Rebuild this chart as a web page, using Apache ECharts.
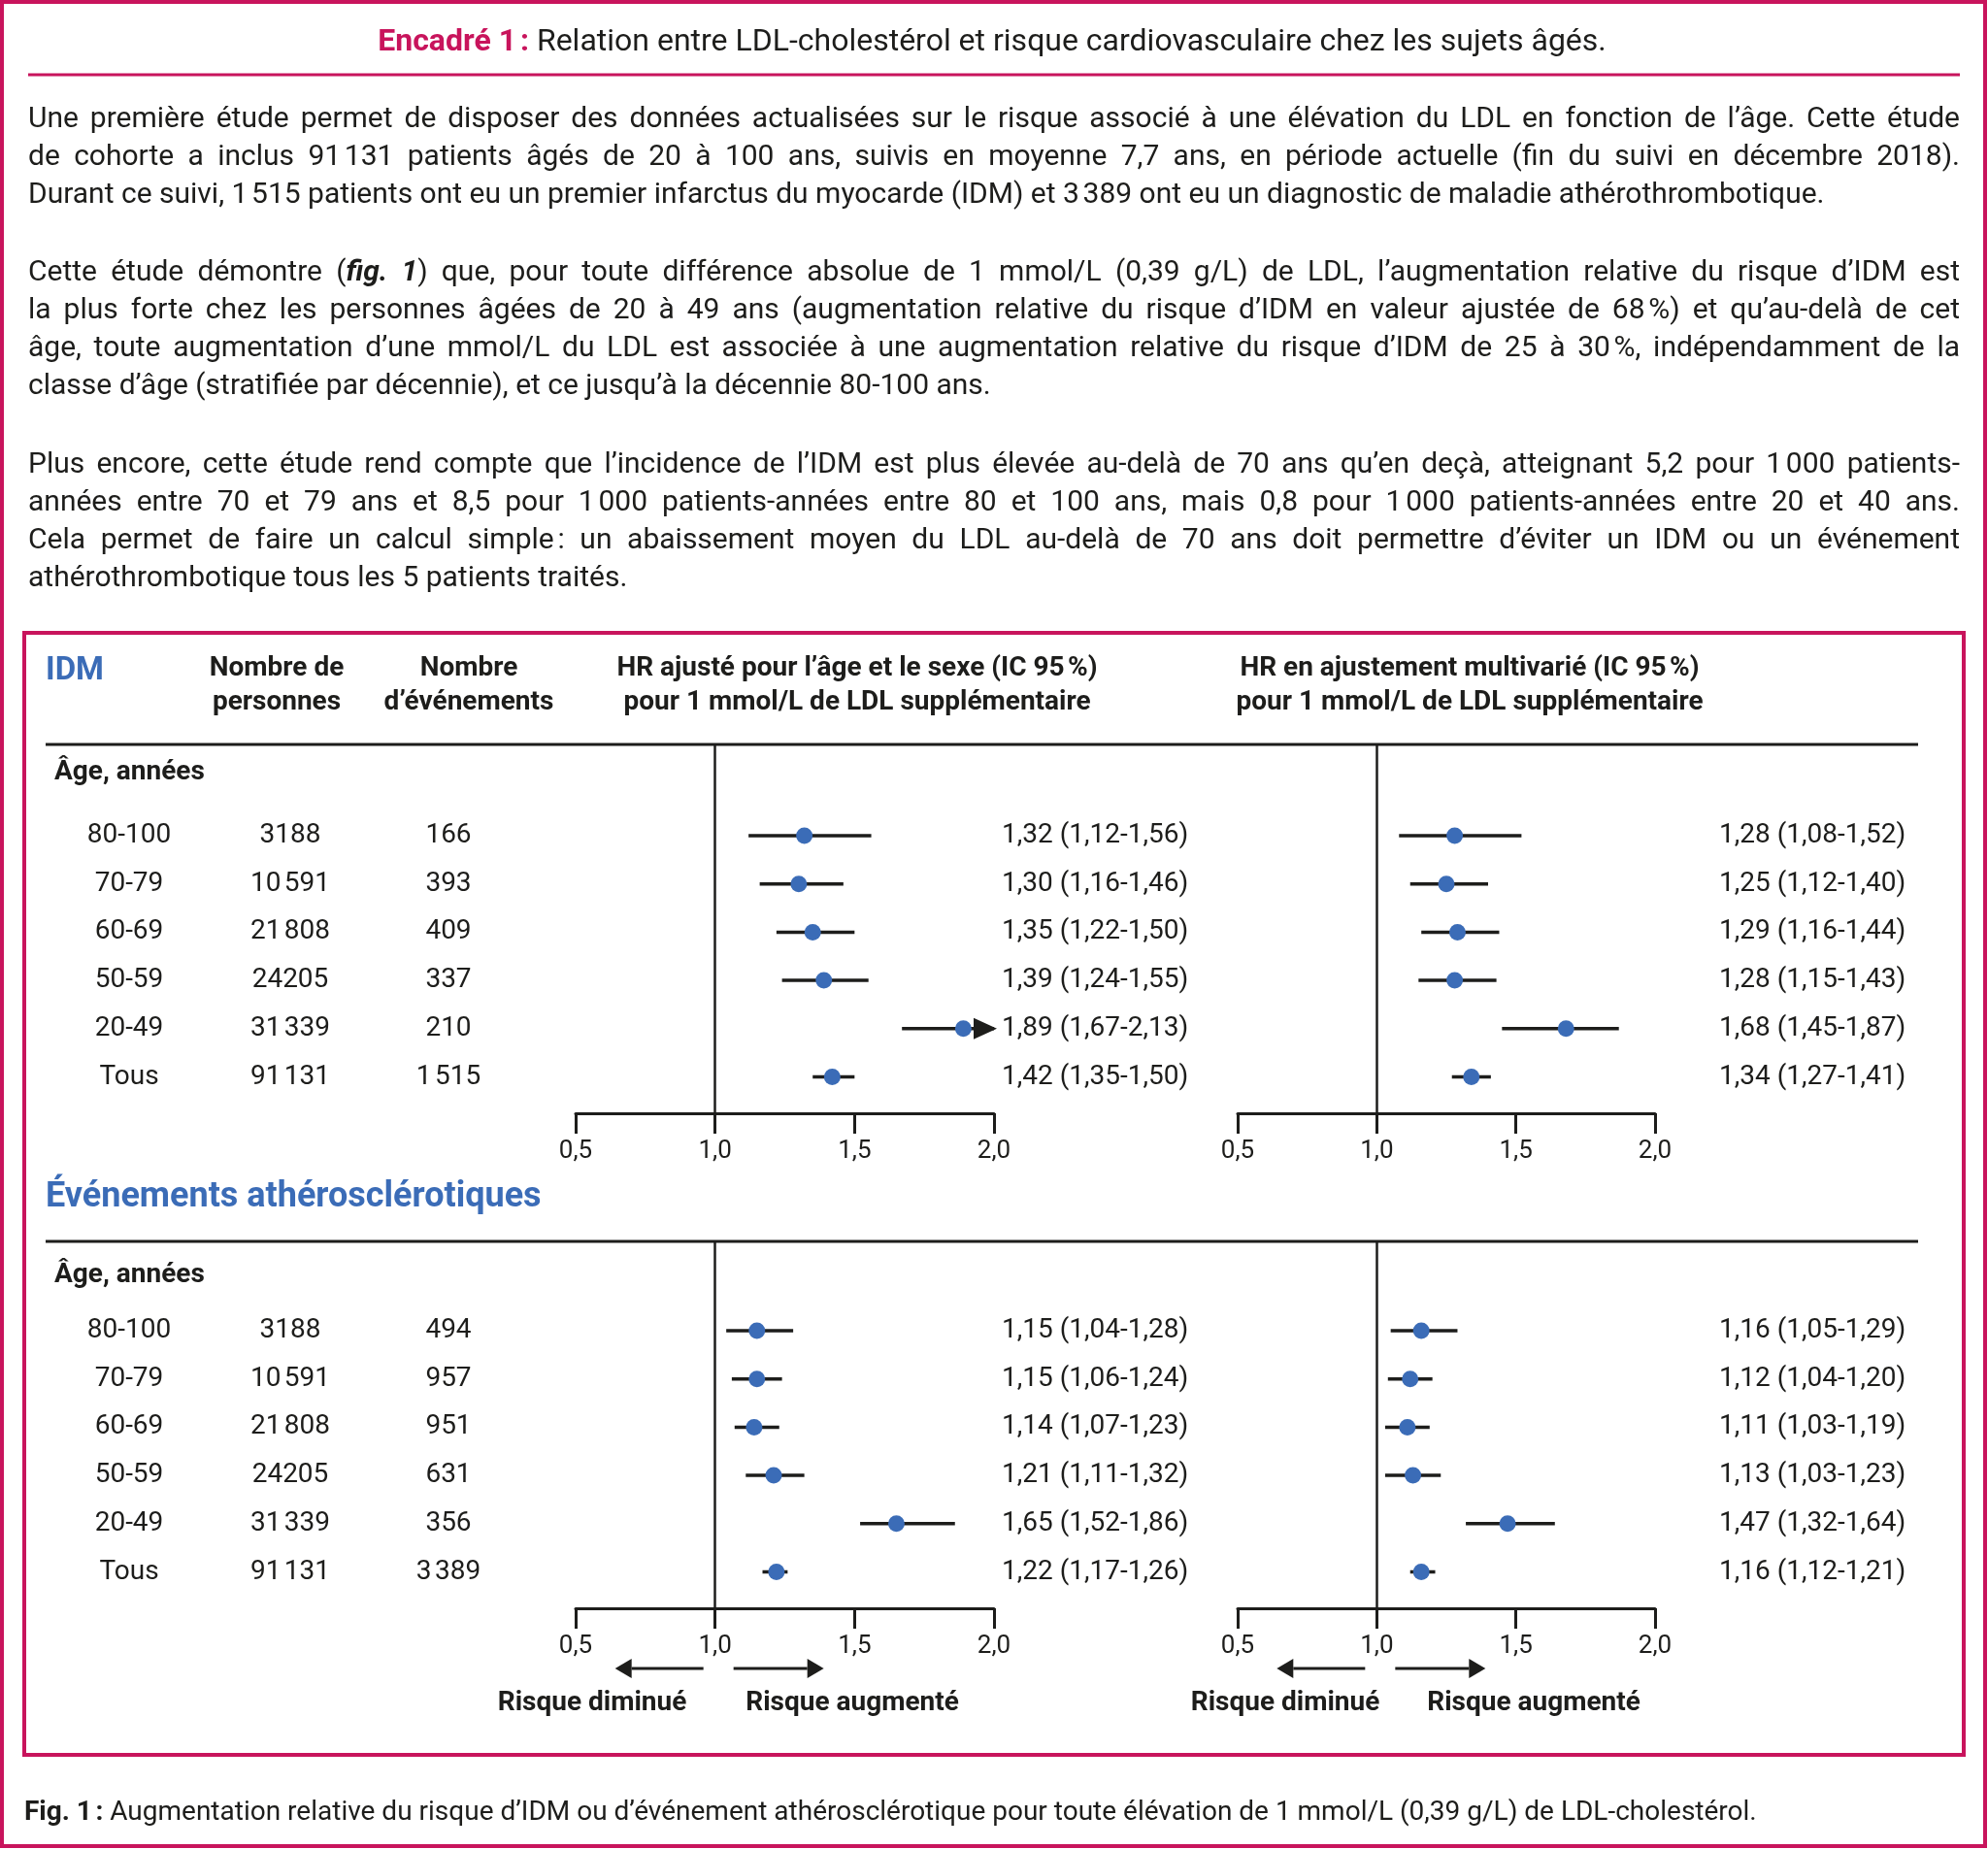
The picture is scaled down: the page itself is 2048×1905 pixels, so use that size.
<!DOCTYPE html>
<html><head><meta charset="utf-8">
<script src="https://cdn.jsdelivr.net/npm/echarts@6/dist/echarts.min.js"></script>
<style>html,body{margin:0;padding:0;background:#fff}#c{width:2048px;height:1905px}</style>
</head><body><div id="c"></div>
<script>
// ---------------- DATA ----------------
const ageGroups     = ['80-100', '70-79', '60-69', '50-59', '20-49', 'Tous'];
const personCounts  = ['3188', '10\u202f591', '21\u202f808', '24205', '31\u202f339', '91\u202f131'];
const idmEvents     = ['166', '393', '409', '337', '210', '1\u202f515'];
const atheroEvents  = ['494', '957', '951', '631', '356', '3\u202f389'];

const idmAgeSexHR   = [1.32, 1.30, 1.35, 1.39, 1.89, 1.42];
const idmAgeSexLow  = [1.12, 1.16, 1.22, 1.24, 1.67, 1.35];
const idmAgeSexHigh = [1.56, 1.46, 1.50, 1.55, 2.13, 1.50];

const idmMultiHR    = [1.28, 1.25, 1.29, 1.28, 1.68, 1.34];
const idmMultiLow   = [1.08, 1.12, 1.16, 1.15, 1.45, 1.27];
const idmMultiHigh  = [1.52, 1.40, 1.44, 1.43, 1.87, 1.41];

const athAgeSexHR   = [1.15, 1.15, 1.14, 1.21, 1.65, 1.22];
const athAgeSexLow  = [1.04, 1.06, 1.07, 1.11, 1.52, 1.17];
const athAgeSexHigh = [1.28, 1.24, 1.23, 1.32, 1.86, 1.26];

const athMultiHR    = [1.16, 1.12, 1.11, 1.13, 1.47, 1.16];
const athMultiLow   = [1.05, 1.04, 1.03, 1.03, 1.32, 1.12];
const athMultiHigh  = [1.29, 1.20, 1.19, 1.23, 1.64, 1.21];

const hrAxisMin = 0.5, hrAxisMax = 2.0, hrAxisStep = 0.5;

// ---------------- TEXT ----------------
const titleBold = 'Encadré 1\u202f:';
const titleRest = ' Relation entre LDL-cholestérol et risque cardiovasculaire chez les sujets âgés.';
const paragraph1 = [
  'Une première étude permet de disposer des données actualisées sur le risque associé à une élévation du LDL en fonction de l’âge. Cette étude',
  'de cohorte a inclus 91\u202f131 patients âgés de 20 à 100 ans, suivis en moyenne 7,7 ans, en période actuelle (fin du suivi en décembre 2018).',
  'Durant ce suivi, 1\u202f515 patients ont eu un premier infarctus du myocarde (IDM) et 3\u202f389 ont eu un diagnostic de maladie athérothrombotique.'
];
const paragraph2 = [
  'Cette étude démontre ([[fig. 1]]) que, pour toute différence absolue de 1 mmol/L (0,39 g/L) de LDL, l’augmentation relative du risque d’IDM est',
  'la plus forte chez les personnes âgées de 20 à 49 ans (augmentation relative du risque d’IDM en valeur ajustée de 68\u202f%) et qu’au-delà de cet',
  'âge, toute augmentation d’une mmol/L du LDL est associée à une augmentation relative du risque d’IDM de 25 à 30\u202f%, indépendamment de la',
  'classe d’âge (stratifiée par décennie), et ce jusqu’à la décennie 80-100 ans.'
];
const paragraph3 = [
  'Plus encore, cette étude rend compte que l’incidence de l’IDM est plus élevée au-delà de 70 ans qu’en deçà, atteignant 5,2 pour 1\u202f000 patients-',
  'années entre 70 et 79 ans et 8,5 pour 1\u202f000 patients-années entre 80 et 100 ans, mais 0,8 pour 1\u202f000 patients-années entre 20 et 40 ans.',
  'Cela permet de faire un calcul simple\u202f: un abaissement moyen du LDL au-delà de 70 ans doit permettre d’éviter un IDM ou un événement',
  'athérothrombotique tous les 5 patients traités.'
];
const captionBold = 'Fig. 1\u202f:';
const captionRest = ' Augmentation relative du risque d’IDM ou d’événement athérosclérotique pour toute élévation de 1 mmol/L (0,39 g/L) de LDL-cholestérol.';

// ---------------- STYLE / LAYOUT ----------------
const MAGENTA = '#c8145c', BLUE = '#3b6cb7', INK = '#1d1d1b';
const FAM = 'Roboto, "Noto Sans", sans-serif';
const ROW_STEP = 49.7;

const ctx = document.createElement('canvas').getContext('2d');
function fontStr(size, bold, italic) { return (italic ? 'italic ' : '') + (bold ? 'bold ' : '') + size + 'px ' + FAM; }
function mw(t, size, bold, italic) { ctx.font = fontStr(size, bold, italic); return ctx.measureText(t).width; }

const els = [];
function txt(t, x, y, size, opts) {
  opts = opts || {};
  els.push({
    type: 'text', x: x, y: y, z: 10,
    style: {
      text: t, font: fontStr(size, opts.bold, opts.italic), fill: opts.color || INK,
      textAlign: opts.align || 'left', textVerticalAlign: 'middle', verticalAlign: 'middle'
    }
  });
}
function hline(x1, x2, y, w, c) {
  els.push({ type: 'line', z: 5, shape: { x1: x1, y1: y, x2: x2, y2: y }, style: { stroke: c || INK, lineWidth: w || 3 } });
}
function arrow(xStart, xTip, y) {
  const dir = xTip > xStart ? 1 : -1;
  const base = xTip - dir * 17;
  els.push({ type: 'line', z: 5, shape: { x1: xStart, y1: y, x2: base, y2: y }, style: { stroke: INK, lineWidth: 3 } });
  els.push({ type: 'polygon', z: 5, shape: { points: [[xTip, y], [base, y - 10], [base, y + 10]] }, style: { fill: INK } });
}

// parse a line into words made of styled pieces
function parseWords(line) {
  const tokens = line.split(/(\[\[.*?\]\])/).filter(s => s.length);
  const words = [[]];
  tokens.forEach(tok => {
    const bi = tok.startsWith('[[');
    const s = bi ? tok.slice(2, -2) : tok;
    const parts = s.split(' ');
    parts.forEach((p, k) => {
      if (k > 0) words.push([]);
      if (p.length) words[words.length - 1].push({ t: p, b: bi, i: bi });
    });
  });
  return words.filter(w => w.length);
}

const TX0 = 29, TX1 = 2019;
function wordWidth(w, size) { return w.reduce((s, p) => s + mw(p.t, size, p.b, p.i), 0); }
let bodySize = 30;
[paragraph1, paragraph2, paragraph3].forEach(par => par.forEach((line, li) => {
  const ws = parseWords(line);
  const need = ws.reduce((s, w) => s + wordWidth(w, bodySize), 0) + (ws.length - 1) * mw(' ', bodySize) * 0.75;
  if (need > TX1 - TX0) bodySize = Math.min(bodySize, bodySize * (TX1 - TX0) / need);
}));

function paragraph(lines, y0, step) {
  lines.forEach((line, li) => {
    const ws = parseWords(line);
    const widths = ws.map(w => wordWidth(w, bodySize));
    const total = widths.reduce((a, b) => a + b, 0);
    const last = li === lines.length - 1;
    const just = (TX1 - TX0 - total) / (ws.length - 1);
    const gap = last ? Math.min(mw(' ', bodySize), just) : just;
    let x = TX0;
    const y = y0 + li * step;
    ws.forEach((w, k) => {
      let px = x;
      w.forEach(p => {
        txt(p.t, px, y, bodySize, { bold: p.b, italic: p.i });
        px += mw(p.t, bodySize, p.b, p.i);
      });
      x += widths[k] + gap;
    });
  });
}

// frames
els.push({ type: 'rect', z: 1, shape: { x: 2, y: 2, width: 2043, height: 1900 }, style: { fill: 'none', stroke: MAGENTA, lineWidth: 4 } });
els.push({ type: 'rect', z: 1, shape: { x: 25, y: 652, width: 1998, height: 1156 }, style: { fill: 'none', stroke: MAGENTA, lineWidth: 4 } });

// title
{
  const size = 32;
  const w1 = mw(titleBold, size, true), w2 = mw(titleRest, size, false);
  const x0 = 1022 - (w1 + w2) / 2;
  txt(titleBold, x0, 44, size, { bold: true, color: MAGENTA });
  txt(titleRest, x0 + w1, 44, size);
}
hline(29, 2019, 77, 3, MAGENTA);

paragraph(paragraph1, 123, 39.3);
paragraph(paragraph2, 281, 39.3);
paragraph(paragraph3, 479, 39.3);

// table headers
const HS = 28;
txt('IDM', 47, 692, 33, { bold: true, color: BLUE });
txt('Nombre de', 285, 689, HS, { bold: true, align: 'center' });
txt('personnes', 285, 724, HS, { bold: true, align: 'center' });
txt('Nombre', 483, 689, HS, { bold: true, align: 'center' });
txt('d’événements', 483, 724, HS, { bold: true, align: 'center' });
txt('HR ajusté pour l’âge et le sexe (IC 95\u202f%)', 883, 689, HS, { bold: true, align: 'center' });
txt('pour 1 mmol/L de LDL supplémentaire', 883, 724, HS, { bold: true, align: 'center' });
txt('HR en ajustement multivarié (IC 95\u202f%)', 1514, 689, HS, { bold: true, align: 'center' });
txt('pour 1 mmol/L de LDL supplémentaire', 1514, 724, HS, { bold: true, align: 'center' });
hline(47, 1976, 767, 3);
txt('Âge, années', 56, 796, HS, { bold: true });

txt('Événements athérosclérotiques', 47, 1234, 36, { bold: true, color: BLUE });
hline(47, 1976, 1279, 3);
txt('Âge, années', 56, 1314, HS, { bold: true });

// caption
{
  const size = 28;
  const w1 = mw(captionBold, size, true);
  txt(captionBold, 25, 1868, size, { bold: true });
  txt(captionRest, 25 + w1, 1868, size);
}

// ---------------- FOREST PANELS ----------------
const panels = [
  { hr: idmAgeSexHR, lo: idmAgeSexLow, hi: idmAgeSexHigh, events: idmEvents, table: true,
    grid: { left: 593, top: 767, width: 431, height: 380 }, firstRow: 861, labelX: 1032 },
  { hr: idmMultiHR, lo: idmMultiLow, hi: idmMultiHigh, table: false,
    grid: { left: 1275, top: 767, width: 430, height: 380 }, firstRow: 861, labelX: 1771 },
  { hr: athAgeSexHR, lo: athAgeSexLow, hi: athAgeSexHigh, events: atheroEvents, table: true,
    grid: { left: 593, top: 1279, width: 431, height: 378 }, firstRow: 1371, labelX: 1032 },
  { hr: athMultiHR, lo: athMultiLow, hi: athMultiHigh, table: false,
    grid: { left: 1275, top: 1279, width: 430, height: 378 }, firstRow: 1371, labelX: 1771 }
];

const fmt2 = v => v.toFixed(2).replace('.', ',');
const fmt1 = v => v.toFixed(1).replace('.', ',');

const grid = [], xAxis = [], yAxis = [], series = [];
panels.forEach((p, k) => {
  grid.push(Object.assign({ containLabel: false }, p.grid));
  xAxis.push({
    gridIndex: k, type: 'value', position: 'bottom', min: hrAxisMin, max: hrAxisMax, interval: hrAxisStep,
    axisLine: { show: true, onZero: false, lineStyle: { color: INK, width: 3 } },
    axisTick: { show: true, inside: false, length: 21, lineStyle: { color: INK, width: 3 } },
    axisLabel: { show: true, margin: 26, fontSize: 26, fontFamily: FAM, color: INK, formatter: v => fmt1(v) },
    splitLine: { show: false }
  });
  yAxis.push({
    gridIndex: k, type: 'value', inverse: true, show: false,
    min: (p.grid.top - p.firstRow) / ROW_STEP,
    max: (p.grid.top + p.grid.height - p.firstRow) / ROW_STEP
  });
  const rows = p.hr.map((v, i) => [i, p.lo[i], p.hi[i], v]);
  // CI lines
  series.push({
    type: 'custom', xAxisIndex: k, yAxisIndex: k, clip: false, z: 2,
    data: rows,
    renderItem: (params, api) => {
      const i = api.value(0), lo = api.value(1), hi = api.value(2);
      const a = api.coord([lo, i]), b = api.coord([Math.min(hi, hrAxisMax), i]);
      const ch = [{ type: 'line', shape: { x1: a[0], y1: a[1], x2: b[0], y2: b[1] }, style: { stroke: INK, lineWidth: 3.5 } }];
      if (hi > hrAxisMax) {
        const tip = b[0] + 3;
        ch.push({ type: 'polygon', shape: { points: [[tip, b[1]], [tip - 24, b[1] - 11], [tip - 24, b[1] + 11]] }, style: { fill: INK } });
      }
      return { type: 'group', children: ch };
    }
  });
  // point estimates + reference line at 1
  series.push({
    type: 'scatter', xAxisIndex: k, yAxisIndex: k, z: 3,
    symbol: 'circle', symbolSize: 17, itemStyle: { color: BLUE, opacity: 1 },
    data: p.hr.map((v, i) => [v, i]),
    markLine: {
      silent: true, symbol: 'none', label: { show: false }, animation: false,
      lineStyle: { color: INK, width: 2.5, type: 'solid' },
      data: [{ xAxis: 1 }]
    }
  });
  // table text + HR labels
  series.push({
    type: 'custom', xAxisIndex: k, yAxisIndex: k, clip: false, z: 4,
    data: rows,
    renderItem: (params, api) => {
      const i = api.value(0);
      const y = api.coord([1, i])[1];
      const st = (t, x, align) => ({
        type: 'text', x: x, y: y,
        style: { text: t, font: fontStr(28, false), fill: INK, textAlign: align, textVerticalAlign: 'middle', verticalAlign: 'middle' }
      });
      const ch = [st(fmt2(p.hr[i]) + ' (' + fmt2(p.lo[i]) + '-' + fmt2(p.hi[i]) + ')', p.labelX, 'left')];
      if (p.table) {
        ch.push(st(ageGroups[i], 133, 'center'));
        ch.push(st(personCounts[i], 299, 'center'));
        ch.push(st(p.events[i], 462, 'center'));
      }
      return { type: 'group', children: ch };
    }
  });
});

// direction arrows under the athero axes
[panels[2], panels[3]].forEach(p => {
  const x1 = p.grid.left + (1 - hrAxisMin) / (hrAxisMax - hrAxisMin) * p.grid.width;
  arrow(x1 - 12, x1 - 103, 1719);
  arrow(x1 + 19, x1 + 112, 1719);
});
txt('Risque diminué', 610, 1755, HS, { bold: true, align: 'center' });
txt('Risque augmenté', 878, 1755, HS, { bold: true, align: 'center' });
txt('Risque diminué', 1324, 1755, HS, { bold: true, align: 'center' });
txt('Risque augmenté', 1580, 1755, HS, { bold: true, align: 'center' });

const chart = echarts.init(document.getElementById('c'), null, { renderer: 'canvas' });
chart.setOption({
  animation: false,
  backgroundColor: '#ffffff',
  textStyle: { fontFamily: FAM },
  grid: grid, xAxis: xAxis, yAxis: yAxis, series: series,
  graphic: { elements: els }
});
</script></body></html>
